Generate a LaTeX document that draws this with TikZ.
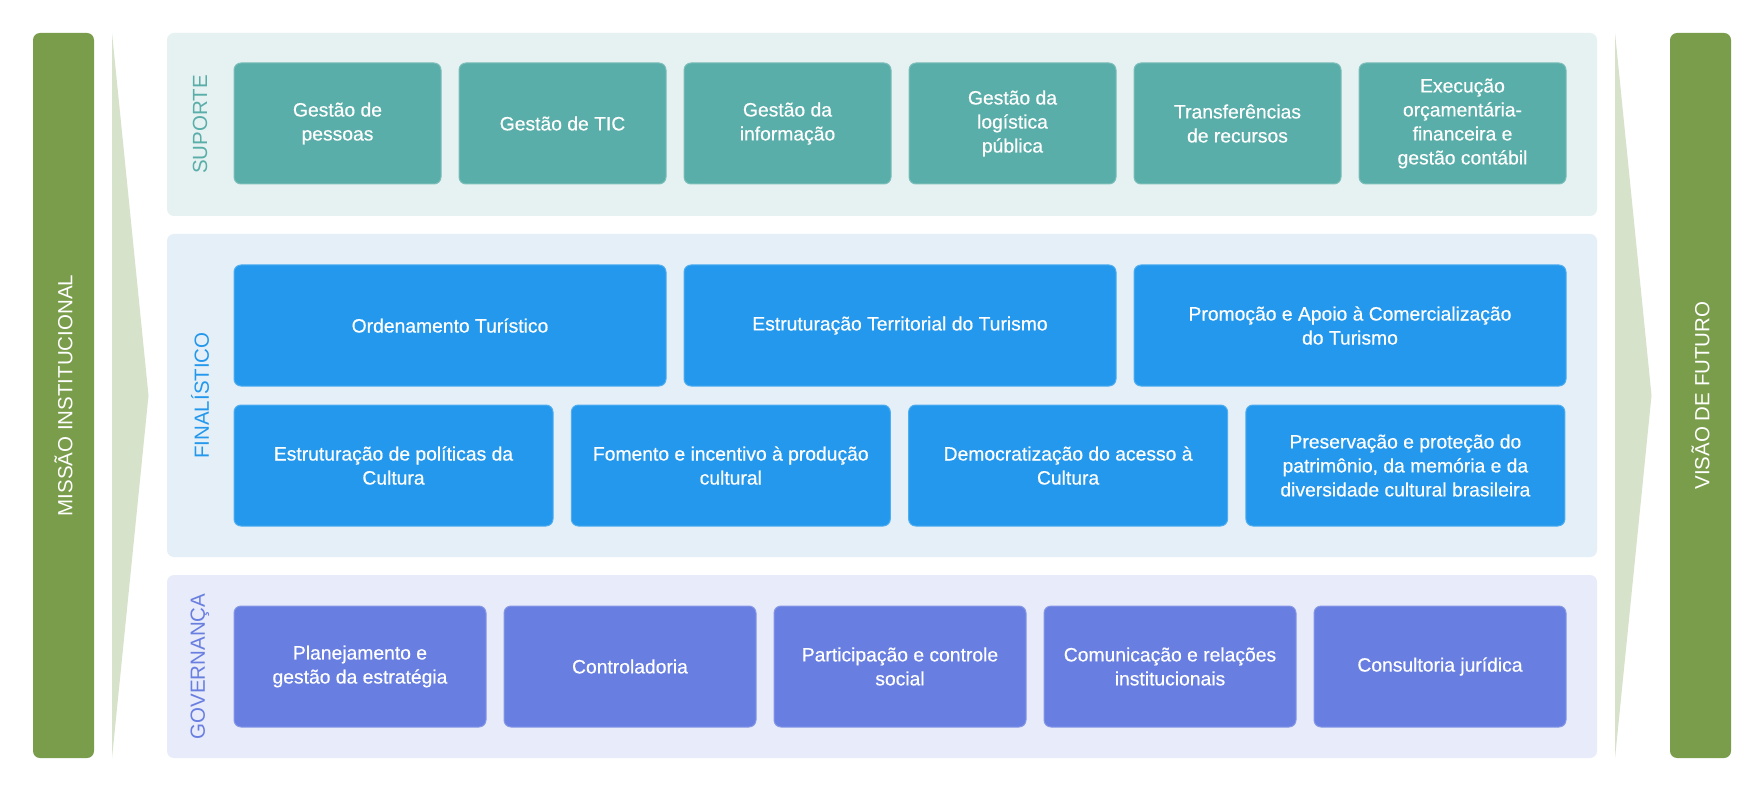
\documentclass[tikz,border=0pt]{standalone}
\usepackage{fontspec}
\setmainfont{Liberation Sans}
\newfontfamily\boxfont{Liberation Sans}[FakeBold=0.5]
\definecolor{bargreen}{HTML}{799D4A}
\definecolor{trigreen}{HTML}{D6E2C9}
\definecolor{supbg}{HTML}{E6F2F1}
\definecolor{supbox}{HTML}{5AAEA9}
\definecolor{finbg}{HTML}{E5EFF8}
\definecolor{finbox}{HTML}{2398EC}
\definecolor{govbg}{HTML}{E8EBF9}
\definecolor{govbox}{HTML}{687EE0}
\tikzset{
  panel/.style={rounded corners=7pt, inner sep=0pt, minimum width=1430pt},
  boxbase/.style={rounded corners=7pt, line width=1pt, text=white, align=center,
    minimum height=121pt, inner sep=0pt, font=\boxfont\fontsize{19.3}{24}\selectfont},
  sbox/.style={boxbase, fill=supbox, draw=supbox!80!white, minimum width=207pt},
  fboxa/.style={boxbase, fill=finbox, draw=finbox!80!white, minimum width=432pt},
  fboxb/.style={boxbase, fill=finbox, draw=finbox!80!white, minimum width=319pt},
  gbox/.style={boxbase, fill=govbox, draw=govbox!80!white, minimum width=252pt},
  sidebar/.style={fill=bargreen, rounded corners=7pt, minimum width=61pt, minimum height=725pt, inner sep=0pt},
  barlabel/.style={rotate=90, text=white, font=\fontsize{20.5}{24}\selectfont},
  grouplabel/.style={rotate=90, font=\fontsize{20.5}{24}\selectfont}
}
\begin{document}
\begin{tikzpicture}[x=1pt,y=-1pt]
\useasboundingbox (0,0) rectangle (1763,794);
\fill[white] (0,0) rectangle (1763,794);
% side bars
\node[sidebar] (missao) at (63.5,395.5) {};
\node[barlabel] (missaoT) at (missao.center) {MISSÃO INSTITUCIONAL};
\node[sidebar] (visao) at (1700.5,395.5) {};
\node[barlabel] (visaoT) at (visao.center) {VISÃO DE FUTURO};
% triangles
\coordinate (lt1) at (112,33);
\coordinate (lt2) at (148.5,395.5);
\coordinate (lt3) at (112,758);
\fill[trigreen] (lt1) -- (lt2) -- (lt3) -- cycle;
\coordinate (rt1) at (1615,33);
\coordinate (rt2) at (1651.5,395.5);
\coordinate (rt3) at (1615,758);
\fill[trigreen] (rt1) -- (rt2) -- (rt3) -- cycle;
% panels
\node[panel, fill=supbg, minimum height=183pt] (psup) at (882,124.5) {};
\node[panel, fill=finbg, minimum height=323pt] (pfin) at (882,395.5) {};
\node[panel, fill=govbg, minimum height=183pt] (pgov) at (882,666.5) {};
\node[grouplabel, text=supbox] (lsup) at (200,124.5) {SUPORTE};
\node[grouplabel, text=finbox] (lfin) at (200,395.5) {FINALÍSTICO};
\node[grouplabel, text=govbox] (lgov) at (200,666.5) {GOVERNANÇA};
% suporte
\node[sbox] (s1) at (337.5,123.5) {Gestão de\\pessoas};
\node[sbox] (s2) at (562.5,123.5) {Gestão de TIC};
\node[sbox] (s3) at (787.5,123.5) {Gestão da\\informação};
\node[sbox] (s4) at (1012.5,123.5) {Gestão da\\logística\\pública};
\node[sbox] (s5) at (1237.5,123.5) {Transferências\\de recursos};
\node[sbox] (s6) at (1462.5,123.5) {Execução\\orçamentária-\\financeira e\\gestão contábil};
% finalistico
\node[fboxa] (f1) at (450,325.5) {Ordenamento Turístico};
\node[fboxa] (f2) at (900,325.5) {Estruturação Territorial do Turismo};
\node[fboxa] (f3) at (1350,325.5) {Promoção e Apoio à Comercialização\\do Turismo};
\node[fboxb] (f4) at (393.5,465.5) {Estruturação de políticas da\\Cultura};
\node[fboxb] (f5) at (730.8,465.5) {Fomento e incentivo à produção\\cultural};
\node[fboxb] (f6) at (1068.1,465.5) {Democratização do acesso à\\Cultura};
\node[fboxb] (f7) at (1405.4,465.5) {Preservação e proteção do\\patrimônio, da memória e da\\diversidade cultural brasileira};
% governanca
\node[gbox] (g1) at (360,666.5) {Planejamento e\\gestão da estratégia};
\node[gbox] (g2) at (630,666.5) {Controladoria};
\node[gbox] (g3) at (900,666.5) {Participação e controle\\social};
\node[gbox] (g4) at (1170,666.5) {Comunicação e relações\\institucionais};
\node[gbox] (g5) at (1440,666.5) {Consultoria jurídica};
\end{tikzpicture}
\end{document}
